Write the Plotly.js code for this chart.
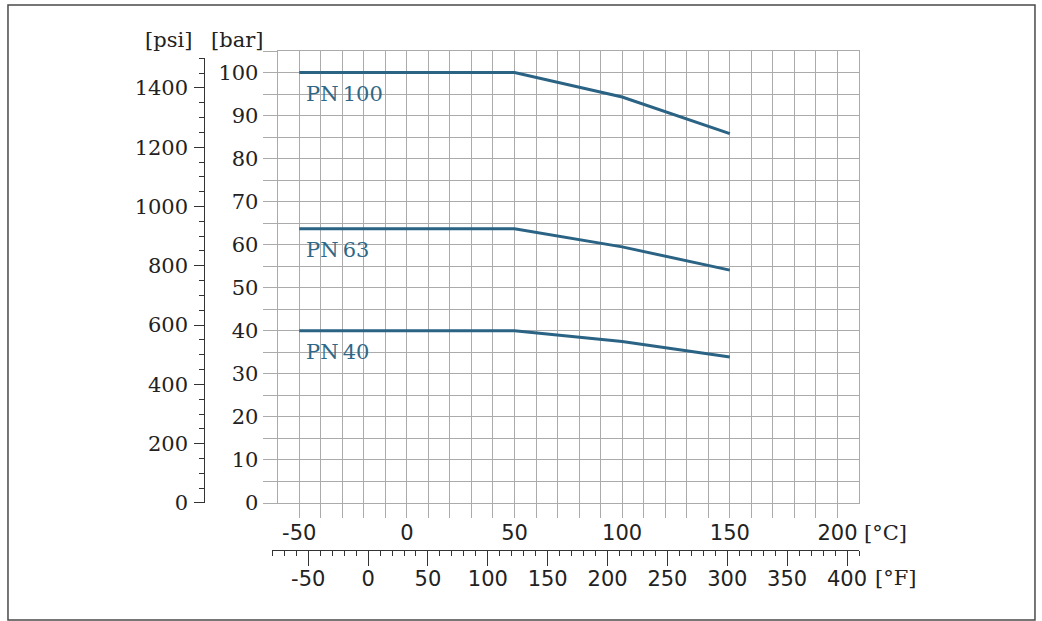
<!DOCTYPE html>
<html>
<head>
<meta charset="utf-8">
<script src="https://cdn.plot.ly/plotly-3.0.1.min.js"></script>
<style>html,body{margin:0;padding:0;background:#fff;}#chart{width:1042px;height:621px;}</style>
</head>
<body>
<div id="chart"></div>
<script>
// ---- data ----
const tempC = [-50, 50, 100, 150];
const pn100 = [100, 100, 94.3, 85.8];
const pn63  = [63.7, 63.7, 59.5, 54.1];
const pn40  = [40, 40, 37.5, 33.9];
const seriesNames = ["PN\u2009100", "PN\u200963", "PN\u200940"];
const cTickLabels = [-50, 0, 50, 100, 150, 200];
const fTickLabels = [-50, 0, 50, 100, 150, 200, 250, 300, 350, 400];
const barTickLabels = [0, 10, 20, 30, 40, 50, 60, 70, 80, 90, 100];
const psiTickLabels = [0, 200, 400, 600, 800, 1000, 1200, 1400];

// ---- styling ----
const LINE = '#2b6384';
const LABEL = '#2f6887';
const GRID = '#ababab';
const DARK = '#333333';
const SERIF = 'DejaVu Serif';
const SANS = 'DejaVu Sans';

const cVals = []; for (let v = -50; v <= 200; v += 10) cVals.push(v);
const cText = cVals.map(v => cTickLabels.includes(v) ? String(v) : '');
const bVals = []; for (let v = 0; v <= 105; v += 5) bVals.push(v);
const bText = bVals.map(v => barTickLabels.includes(v) ? String(v) : '');

const series = [pn100, pn63, pn40];
const traces = series.map((s, i) => ({
  x: tempC, y: s, type: 'scatter', mode: 'lines', name: seriesNames[i],
  line: {color: LINE, width: 3}, hoverinfo: 'skip', showlegend: false
}));
traces.push({x: [0], y: [0], xaxis: 'x2', yaxis: 'y2', mode: 'markers', marker: {opacity: 0}, hoverinfo: 'skip', showlegend: false});
traces.push({x: [0], y: [0], xaxis: 'x3', yaxis: 'y3', mode: 'markers', marker: {opacity: 0}, hoverinfo: 'skip', showlegend: false});

const annotations = series.map((s, i) => ({
  x: tempC[0], y: s[0], xref: 'x', yref: 'y', text: seriesNames[i],
  showarrow: false, xanchor: 'left', yanchor: 'middle', xshift: 5, yshift: -21,
  font: {family: SERIF, size: 21, color: LABEL}
}));
annotations.push(
  {xref: 'paper', yref: 'paper', x: 0.0254, y: 1.0208, text: '[psi]', showarrow: false, xanchor: 'center', yanchor: 'middle', font: {family: SERIF, size: 21, color: '#222'}},
  {xref: 'paper', yref: 'paper', x: 0.1234, y: 1.0208, text: '[bar]', showarrow: false, xanchor: 'center', yanchor: 'middle', font: {family: SERIF, size: 21, color: '#222'}},
  {xref: 'paper', yref: 'paper', x: 1.0042, y: 0.0906, text: '[°C]', showarrow: false, xanchor: 'left', yanchor: 'middle', font: {family: SERIF, size: 21, color: '#222'}},
  {xref: 'paper', yref: 'paper', x: 1.0197, y: 0.0057, text: '[°F]', showarrow: false, xanchor: 'left', yanchor: 'middle', font: {family: SERIF, size: 21, color: '#222'}}
);

const layout = {
  width: 1042, height: 621,
  margin: {l: 150, r: 183, t: 51, b: 40},
  paper_bgcolor: '#fff', plot_bgcolor: '#fff',
  showlegend: false,
  xaxis: {
    domain: [0.1801, 1], range: [-60, 210], anchor: 'y',
    tickmode: 'array', tickvals: cVals, ticktext: cText,
    ticks: 'outside', ticklen: 14, tickcolor: GRID, tickwidth: 1,
    showgrid: true, gridcolor: GRID, gridwidth: 1, zeroline: false,
    showline: true, mirror: true, linecolor: GRID, linewidth: 1,
    ticklabelstandoff: -3,
    tickfont: {family: SANS, size: 21, color: '#222'}, fixedrange: true
  },
  yaxis: {
    domain: [0.14717, 1], range: [0, 105], anchor: 'x',
    tickmode: 'array', tickvals: bVals, ticktext: bText,
    ticks: 'outside', ticklen: 14, tickcolor: GRID, tickwidth: 1,
    showgrid: true, gridcolor: GRID, gridwidth: 1, zeroline: false,
    showline: true, mirror: true, linecolor: GRID, linewidth: 1,
    tickfont: {family: SERIF, size: 21, color: '#222'}, fixedrange: true
  },
  xaxis2: {domain: [0.078, 0.09], range: [0, 1], anchor: 'y2', visible: false, fixedrange: true},
  yaxis2: {
    domain: [0.14717, 0.98623], range: [0, 1500], anchor: 'x2', side: 'left',
    tickmode: 'array', tickvals: psiTickLabels, ticktext: psiTickLabels.map(String),
    ticks: 'outside', ticklen: 10, tickcolor: DARK, tickwidth: 1,
    minor: {dtick: 50, tick0: 0, ticks: 'outside', ticklen: 5, tickcolor: DARK, tickwidth: 1, showgrid: false},
    showgrid: false, zeroline: false, showline: true, linecolor: DARK, linewidth: 1,
    ticklabelstandoff: 2,
    tickfont: {family: SERIF, size: 21, color: '#222'}, fixedrange: true
  },
  xaxis3: {
    domain: [0.1725, 1], range: [-80, 410], anchor: 'y3', side: 'bottom',
    tickmode: 'array', tickvals: fTickLabels, ticktext: fTickLabels.map(String),
    ticks: 'outside', ticklen: 15, tickcolor: DARK, tickwidth: 1,
    minor: {dtick: 10, tick0: -80, ticks: 'outside', ticklen: 5, tickcolor: DARK, tickwidth: 1, showgrid: false},
    showgrid: false, zeroline: false, showline: true, linecolor: DARK, linewidth: 1,
    ticklabelstandoff: -5,
    tickfont: {family: SANS, size: 21, color: '#222'}, fixedrange: true
  },
  yaxis3: {domain: [0.0585, 0.07], range: [0, 1], anchor: 'x3', visible: false, fixedrange: true},
  annotations: annotations,
  shapes: [{
    type: 'rect', xref: 'paper', yref: 'paper',
    x0: -0.2003, x1: 1.2482, y0: -0.0736, y1: 1.0868,
    line: {color: '#4a4a4a', width: 1.5}, fillcolor: 'rgba(0,0,0,0)', layer: 'below'
  }]
};

Plotly.newPlot('chart', traces, layout, {staticPlot: true, displayModeBar: false});
</script>
</body>
</html>
